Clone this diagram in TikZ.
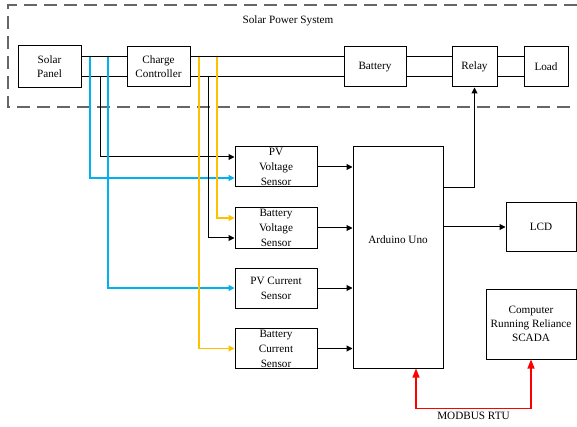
\documentclass[tikz,border=0pt]{standalone}
\usepackage{fontspec}
\setmainfont{Liberation Serif}
\usetikzlibrary{arrows.meta,positioning}
\definecolor{pvblue}{RGB}{0,176,240}
\definecolor{batorange}{RGB}{255,192,0}

\begin{document}
\begin{tikzpicture}[
  x=1pt, y=-1pt,
  >=Stealth,
  box/.style={draw, rectangle, line width=1pt,
              font=\fontsize{11.2}{14}\selectfont, inner sep=1pt,
              align=center},
  sensor/.style={box, minimum width=82, minimum height=40,
                 font=\fontsize{11.2}{15}\selectfont},
  lbl/.style={font=\fontsize{11.2}{14}\selectfont},
  bus/.style={line width=1pt},
  arr/.style={-{Triangle[length=6pt,width=6pt]}, line width=1pt},
  pvline/.style={arr, line width=1.2pt, pvblue},
  batline/.style={arr, line width=1.2pt, batorange},
  rarr/.style={{Triangle[length=9pt,width=7pt]}-{Triangle[length=9pt,width=7pt]},
               line width=1.3pt, red},
  frame/.style={dash pattern=on 13pt off 7pt, line width=1.1pt, black!60}]

\useasboundingbox (0,0) rectangle (577,427);

% Solar power system frame (open on the right)
\draw[frame] (577,5) -- (8,5) -- (8,107) -- (577,107);
\node[lbl] (title) at (288,21) {Solar Power System};

% Top row: power chain
\node[box, minimum width=63, minimum height=42] (panel)   at (49.5,67)  {Solar\\Panel};
\node[box, minimum width=63, minimum height=40] (charger) at (158.5,67) {Charge\\Controller};
\node[box, minimum width=62, minimum height=40] (battery) at (375,67)   {Battery};
\node[box, minimum width=45, minimum height=40] (relay)   at (474.5,67) {Relay};
\node[box, minimum width=44, minimum height=40] (load)    at (546,67)   {Load};

% Double bus lines
\foreach \a/\b in {panel/charger, charger/battery, battery/relay, relay/load}
  \foreach \s in {10,-10}
    \draw[bus] ([yshift=\s]\a.east) -- ([yshift=\s]\b.west);

% Sensors
\node[sensor] (pvv)  at (276,167)   {PV\\Voltage\\Sensor};
\node[sensor] (batv) at (276,228)   {Battery\\Voltage\\Sensor};
\node[sensor] (pvc)  at (276,288)   {PV Current\\Sensor};
\node[sensor] (batc) at (276,348.5) {Battery\\Current\\Sensor};

% Controller and outputs
\node[box, minimum width=90, minimum height=221] (ard) at (398,257.5) {};
\node[lbl] (ardtxt) at (398,240) {Arduino Uno};
\node[box, minimum width=70, minimum height=48] (lcd)   at (541,227) {LCD};
\node[box, minimum width=90, minimum height=70] (scada) at (531,324)
  {Computer\\Running Reliance\\SCADA};

% Taps on the bus
\coordinate (pvtop1)  at (90,57);
\coordinate (pvbot)   at (100,77);
\coordinate (pvtop2)  at (108,57);
\coordinate (battop1) at (199,57);
\coordinate (batbot)  at (208,77);
\coordinate (battop2) at (217,57);

\draw[arr]     (pvbot)   |- ([yshift=10]pvv.west);
\draw[pvline]  (pvtop1)  |- ([yshift=-11]pvv.west);
\draw[pvline]  (pvtop2)  |- (pvc.west);
\draw[batline] (battop2) |- ([yshift=10]batv.west);
\draw[arr]     (batbot)  |- ([yshift=-10]batv.west);
\draw[batline] (battop1) |- (batc.west);

% Sensors into Arduino
\foreach \s in {pvv,batv,pvc,batc}
  \draw[arr] (\s.east) -- (\s.east -| ard.west);

% Arduino outputs
\draw[arr] ([yshift=70]ard.east) -| (relay.south);
\draw[arr] (ard.east |- lcd.west) -- (lcd.west);

% Modbus link
\draw[rarr] ([xshift=18]ard.south) -- ++(0,40)
  -| node[pos=0.25, below, lbl, text=black] {MODBUS RTU} (scada.south);
\end{tikzpicture}
\end{document}
